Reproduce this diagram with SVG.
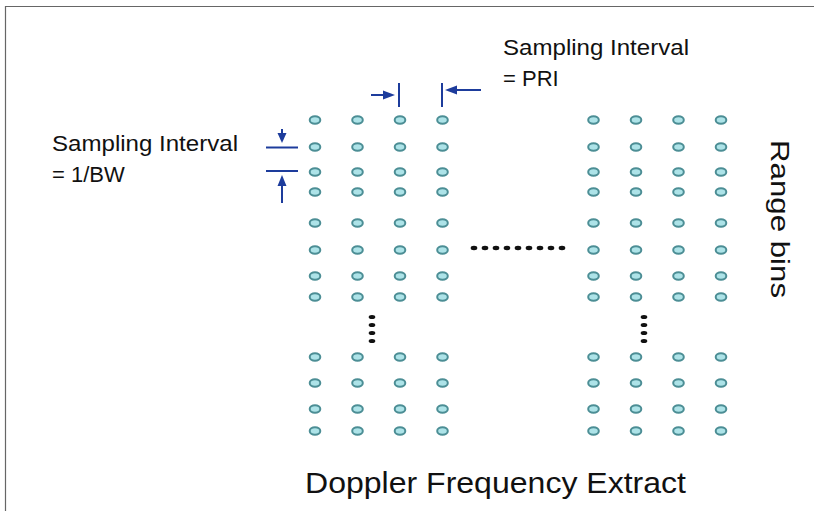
<svg xmlns="http://www.w3.org/2000/svg" width="814" height="511" viewBox="0 0 814 511">
<defs>
<style>
.t{font-family:"Liberation Sans",Arial,sans-serif;fill:#111}
.d{fill:#ade3e8;stroke:#4c8e95;stroke-width:2}
.k{fill:#111}
.a{stroke:#1d3c9c;stroke-width:2;fill:none}
.h{fill:#1d3c9c}
</style>
<g id="dotrow">
<ellipse class="d" cx="0" cy="0" rx="5.3" ry="3.8"/>
<ellipse class="d" cx="42.5" cy="0" rx="5.3" ry="3.8"/>
<ellipse class="d" cx="85" cy="0" rx="5.3" ry="3.8"/>
<ellipse class="d" cx="127.5" cy="0" rx="5.3" ry="3.8"/>
</g>
<g id="vdots">
<ellipse class="k" cx="0" cy="0" rx="3.3" ry="2"/>
<ellipse class="k" cx="0" cy="8" rx="3.3" ry="2"/>
<ellipse class="k" cx="0" cy="16" rx="3.3" ry="2"/>
<ellipse class="k" cx="0" cy="24" rx="3.3" ry="2"/>
</g>
</defs>
<rect width="814" height="511" fill="#fff"/>
<path d="M5.5 511V6.5H814" fill="none" stroke="#666" stroke-width="1.2"/>

<g id="left-grid">
<use href="#dotrow" x="315" y="120"/>
<use href="#dotrow" x="315" y="147"/>
<use href="#dotrow" x="315" y="172"/>
<use href="#dotrow" x="315" y="192"/>
<use href="#dotrow" x="315" y="223"/>
<use href="#dotrow" x="315" y="250"/>
<use href="#dotrow" x="315" y="276"/>
<use href="#dotrow" x="315" y="297"/>
<use href="#vdots" x="372" y="317"/>
<use href="#dotrow" x="315" y="357"/>
<use href="#dotrow" x="315" y="383"/>
<use href="#dotrow" x="315" y="409"/>
<use href="#dotrow" x="315" y="431"/>
</g>

<g id="right-grid">
<use href="#dotrow" x="593.5" y="120"/>
<use href="#dotrow" x="593.5" y="147"/>
<use href="#dotrow" x="593.5" y="172"/>
<use href="#dotrow" x="593.5" y="192"/>
<use href="#dotrow" x="593.5" y="223"/>
<use href="#dotrow" x="593.5" y="250"/>
<use href="#dotrow" x="593.5" y="276"/>
<use href="#dotrow" x="593.5" y="297"/>
<use href="#vdots" x="644" y="317"/>
<use href="#dotrow" x="593.5" y="357"/>
<use href="#dotrow" x="593.5" y="383"/>
<use href="#dotrow" x="593.5" y="409"/>
<use href="#dotrow" x="593.5" y="431"/>
</g>

<g id="hdots">
<ellipse class="k" cx="474" cy="248" rx="3.3" ry="2.2"/>
<ellipse class="k" cx="485" cy="248" rx="3.3" ry="2.2"/>
<ellipse class="k" cx="496" cy="248" rx="3.3" ry="2.2"/>
<ellipse class="k" cx="507" cy="248" rx="3.3" ry="2.2"/>
<ellipse class="k" cx="518" cy="248" rx="3.3" ry="2.2"/>
<ellipse class="k" cx="529" cy="248" rx="3.3" ry="2.2"/>
<ellipse class="k" cx="540" cy="248" rx="3.3" ry="2.2"/>
<ellipse class="k" cx="551" cy="248" rx="3.3" ry="2.2"/>
<ellipse class="k" cx="562" cy="248" rx="3.3" ry="2.2"/>
</g>

<g id="connectors">
<line class="a" x1="399" y1="83" x2="399" y2="107"/>
<line class="a" x1="442" y1="83" x2="442" y2="107"/>
<line class="a" x1="371" y1="95" x2="385" y2="95"/>
<path class="h" d="M395 95L383 90.5V99.5Z"/>
<line class="a" x1="456" y1="90" x2="481" y2="90"/>
<path class="h" d="M445 90L457 85.5V94.5Z"/>
<line class="a" x1="282" y1="129" x2="282" y2="135"/>
<path class="h" d="M282 143L277.5 133H286.5Z"/>
<line class="a" x1="266" y1="147.5" x2="298" y2="147.5"/>
<line class="a" x1="266" y1="171" x2="298" y2="171"/>
<line class="a" x1="282" y1="185" x2="282" y2="203"/>
<path class="h" d="M282 175L277.5 186H286.5Z"/>
</g>

<g id="label-bw">
<text class="t" x="52" y="151" font-size="22" textLength="186" lengthAdjust="spacingAndGlyphs">Sampling Interval</text>
<text class="t" x="52" y="182" font-size="22">= 1/BW</text>
</g>
<g id="label-pri">
<text class="t" x="503" y="55" font-size="22" textLength="186" lengthAdjust="spacingAndGlyphs">Sampling Interval</text>
<text class="t" x="503" y="86" font-size="22">= PRI</text>
</g>
<g id="label-range">
<text class="t" transform="translate(771 140) rotate(90)" font-size="25" textLength="158" lengthAdjust="spacingAndGlyphs">Range bins</text>
</g>
<g id="label-doppler">
<text class="t" x="305" y="493" font-size="29" textLength="381" lengthAdjust="spacingAndGlyphs">Doppler Frequency Extract</text>
</g>
</svg>
